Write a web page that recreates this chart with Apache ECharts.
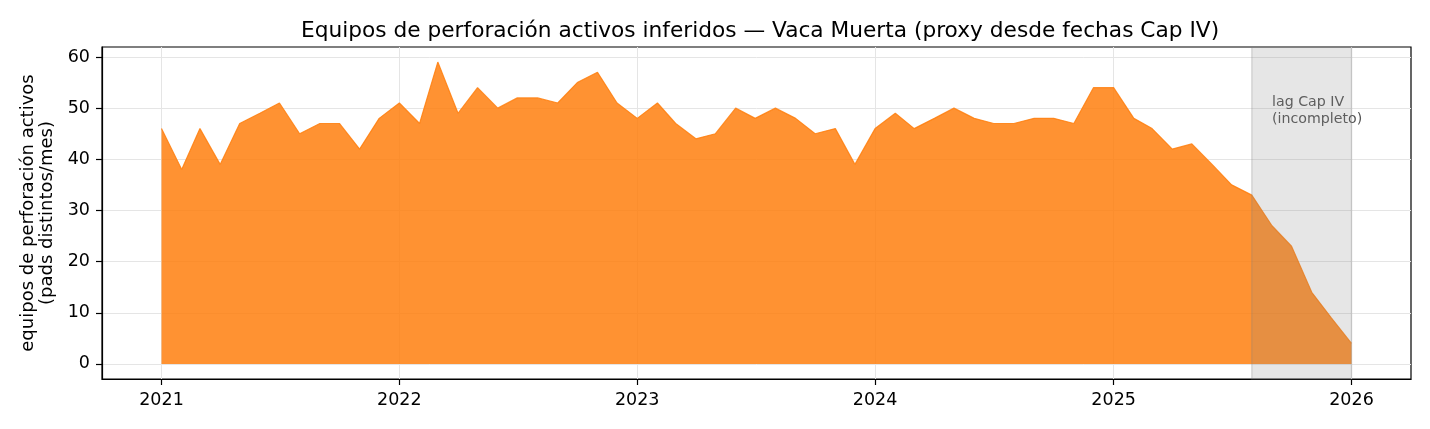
<!DOCTYPE html>
<html>
<head>
<meta charset="utf-8">
<script src="https://cdn.jsdelivr.net/npm/echarts@6/dist/echarts.min.js"></script>
<style>
html,body{margin:0;padding:0;background:#fff;}
#c{width:1430px;height:429px;}
</style>
</head>
<body>
<div id="c"></div>
<script>
const months = [
 '2021-01-01','2021-02-01','2021-03-01','2021-04-01','2021-05-01','2021-06-01','2021-07-01','2021-08-01','2021-09-01','2021-10-01','2021-11-01','2021-12-01',
 '2022-01-01','2022-02-01','2022-03-01','2022-04-01','2022-05-01','2022-06-01','2022-07-01','2022-08-01','2022-09-01','2022-10-01','2022-11-01','2022-12-01',
 '2023-01-01','2023-02-01','2023-03-01','2023-04-01','2023-05-01','2023-06-01','2023-07-01','2023-08-01','2023-09-01','2023-10-01','2023-11-01','2023-12-01',
 '2024-01-01','2024-02-01','2024-03-01','2024-04-01','2024-05-01','2024-06-01','2024-07-01','2024-08-01','2024-09-01','2024-10-01','2024-11-01','2024-12-01',
 '2025-01-01','2025-02-01','2025-03-01','2025-04-01','2025-05-01','2025-06-01','2025-07-01','2025-08-01','2025-09-01','2025-10-01','2025-11-01','2025-12-01',
 '2026-01-01'
];
const rigs = [
 46,38,46,39,47,49,51,45,47,47,42,48,
 51,47,59,49,54,50,52,52,51,55,57,51,
 48,51,47,44,45,50,48,50,48,45,46,39,
 46,49,46,48,50,48,47,47,48,48,47,54,
 54,48,46,42,43,39,35,33,27,23,14,9,
 4
];
const xTicks = ['2021-01-01','2022-01-01','2023-01-01','2024-01-01','2025-01-01','2026-01-01'];
const yTicks = [0,10,20,30,40,50,60];
const lagStart = '2025-08-01';
const lagEnd = '2026-01-01';
const lagLabel = 'lag Cap IV\n(incompleto)';
const lagLabelAt = ['2025-09-01', 52.8];

const xMin = '2020-10-01T16:48:00';
const xMax = '2026-04-02T07:12:00';
const toTs = s => new Date(s).getTime();

const chart = echarts.init(document.getElementById('c'), null, {renderer:'canvas'});
const FONT = 'DejaVu Sans';
chart.setOption({
  animation: false,
  textStyle: {fontFamily: FONT},
  title: {
    text: 'Equipos de perforación activos inferidos — Vaca Muerta (proxy desde fechas Cap IV)',
    left: 296, top: 15,
    textStyle: {fontFamily: FONT, fontSize: 21.7, fontWeight: 'normal', color: '#000'}
  },
  grid: {left: 102, right: 19, top: 47, bottom: 50, show: true, borderColor: '#000', borderWidth: 1.2, backgroundColor: 'transparent'},
  xAxis: {
    type: 'value',
    min: toTs(xMin), max: toTs(xMax),
    axisLine: {show: true, onZero: false, lineStyle: {color: '#000', width: 1.2}},
    axisTick: {show: true, length: 6, lineStyle: {color: '#000', width: 1.2}, customValues: xTicks.map(toTs)},
    axisLabel: {
      customValues: xTicks.map(toTs),
      color: '#000', fontSize: 17.5, fontFamily: FONT, margin: 12,
      formatter: v => String(new Date(v).getFullYear())
    },
    splitLine: {show: true, lineStyle: {color: '#e5e5e5', width: 1}}
  },
  yAxis: {
    type: 'value',
    min: -2.95, max: 61.95,
    splitNumber: 6,
    name: 'equipos de perforación activos\n(pads distintos/mes)',
    nameLocation: 'middle', nameRotate: 90, nameGap: 41,
    nameTextStyle: {fontFamily: FONT, fontSize: 18, color: '#000', lineHeight: 19, align: 'center'},
    axisLine: {show: true, onZero: false, lineStyle: {color: '#000', width: 1.2}},
    axisTick: {show: true, length: 6, lineStyle: {color: '#000', width: 1.2}, customValues: yTicks},
    axisLabel: {customValues: yTicks, color: '#000', fontSize: 17.5, fontFamily: FONT, margin: 12},
    splitLine: {show: true, lineStyle: {color: '#e5e5e5', width: 1}}
  },
  series: [{
    type: 'line',
    data: months.map((m, i) => [toTs(m), rigs[i]]),
    symbol: 'none',
    z: 2,
    lineStyle: {color: '#ff7f0e', width: 1.2, opacity: 0.85},
    areaStyle: {color: '#ff7f0e', opacity: 0.85, origin: 0},
    markArea: {
      silent: true,
      z: 10,
      itemStyle: {color: 'rgba(128,128,128,0.2)', borderColor: 'rgba(128,128,128,0.25)', borderWidth: 1.5},
      data: [[{xAxis: toTs(lagStart)}, {xAxis: toTs(lagEnd)}]]
    },
    markPoint: {
      silent: true,
      symbol: 'circle', symbolSize: 0,
      label: {show: true, position: [0, 0], align: 'left', verticalAlign: 'top',
        formatter: lagLabel, color: '#555', fontSize: 14.2, fontFamily: FONT, lineHeight: 17},
      data: [{coord: [toTs(lagLabelAt[0]), lagLabelAt[1]]}]
    }
  }]
});
</script>
</body>
</html>
